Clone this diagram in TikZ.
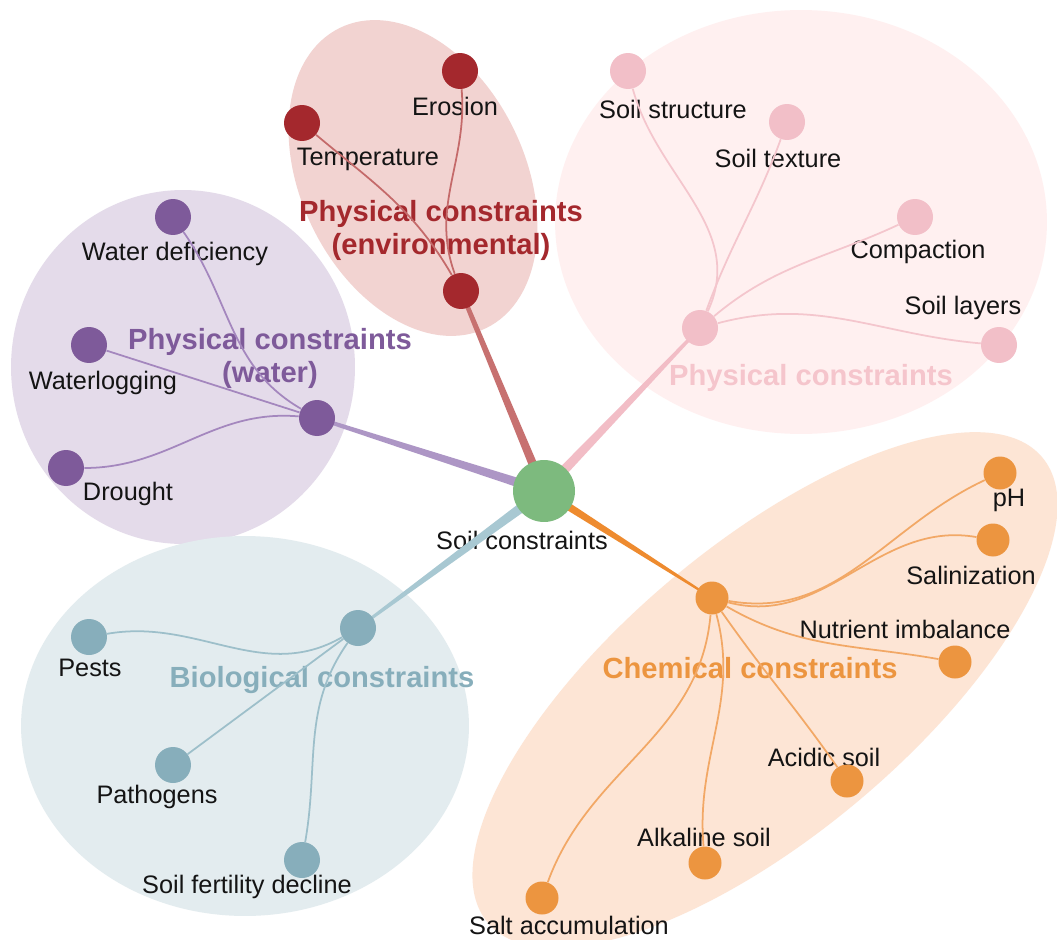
\documentclass[tikz,border=0pt]{standalone}
\usepackage{fontspec}
\setmainfont{Liberation Sans}
\usepackage{tikz}
\usetikzlibrary{calc}

\definecolor{soilgreen}{HTML}{7DBA7E}
\definecolor{envred}{HTML}{A4282D}
\definecolor{envfill}{HTML}{F2D3D1}
\definecolor{envspoke}{HTML}{C77170}
\definecolor{envlink}{HTML}{C46A6A}
\definecolor{water}{HTML}{7E5A9A}
\definecolor{waterfill}{HTML}{E4DBEA}
\definecolor{waterspoke}{HTML}{AD96C5}
\definecolor{waterlink}{HTML}{A487BE}
\definecolor{phys}{HTML}{F2BFC8}
\definecolor{physfill}{HTML}{FFF0F0}
\definecolor{physspoke}{HTML}{F2BDC6}
\definecolor{physlink}{HTML}{F4C6CD}
\definecolor{phystitle}{HTML}{F5C5CC}
\definecolor{bio}{HTML}{87AEBB}
\definecolor{biofill}{HTML}{E3ECEF}
\definecolor{biospoke}{HTML}{A8C8D2}
\definecolor{biolink}{HTML}{9DBFCA}
\definecolor{chem}{HTML}{EC9540}
\definecolor{chemfill}{HTML}{FDE5D5}
\definecolor{chemspoke}{HTML}{EE8B2F}
\definecolor{chemlink}{HTML}{F2A866}

\pgfdeclarelayer{blobs}
\pgfdeclarelayer{links}
\pgfsetlayers{blobs,links,main}

\tikzset{
  dot/.style={circle, inner sep=0pt, minimum size=0.72cm},
  lbl/.style={font=\fontsize{14.4}{17}\selectfont, text=black!92, inner sep=1pt},
  grp/.style={font=\fontsize{16.6}{18.8}\selectfont\bfseries, align=center, inner sep=1pt},
  link/.style={line width=1pt},
}

\begin{document}
\begin{tikzpicture}[x=0.02cm, y=-0.02cm]
\useasboundingbox (0,0) rectangle (1057,939);

% hubs and leaves
\node[dot, fill=soilgreen, minimum size=1.24cm] (soil) at (544,491) {};

\node[dot, fill=envred] (envhub) at (461,291) {};
\node[dot, fill=envred] (erosion) at (460,71) {};
\node[dot, fill=envred] (temp) at (302,123) {};

\node[dot, fill=water] (waterhub) at (317,418) {};
\node[dot, fill=water] (wdef) at (173,217) {};
\node[dot, fill=water] (wlog) at (89,345) {};
\node[dot, fill=water] (drought) at (66,468) {};

\node[dot, fill=phys] (physhub) at (700,328) {};
\node[dot, fill=phys] (struct) at (628,71) {};
\node[dot, fill=phys] (texture) at (787,122) {};
\node[dot, fill=phys] (compact) at (915,217) {};
\node[dot, fill=phys] (layers) at (999,345) {};

\node[dot, fill=bio] (biohub) at (358,628) {};
\node[dot, fill=bio] (pests) at (89,637) {};
\node[dot, fill=bio] (pathog) at (173,765) {};
\node[dot, fill=bio] (fertil) at (302,860) {};

\node[dot, fill=chem, minimum size=0.66cm] (chemhub) at (712,598) {};
\node[dot, fill=chem, minimum size=0.66cm] (ph) at (1000,473) {};
\node[dot, fill=chem, minimum size=0.66cm] (salin) at (993,540) {};
\node[dot, fill=chem, minimum size=0.66cm] (nutri) at (955,662) {};
\node[dot, fill=chem, minimum size=0.66cm] (acidic) at (847,781) {};
\node[dot, fill=chem, minimum size=0.66cm] (alkal) at (705,863) {};
\node[dot, fill=chem, minimum size=0.66cm] (salt) at (542,898) {};

\begin{pgfonlayer}{links}
% tapered spokes into the centre
\fill[envspoke] ($(envhub)!1.2pt!90:(soil)$) -- ($(soil)!2.6pt!-90:(envhub)$) -- ($(soil)!2.6pt!90:(envhub)$) -- ($(envhub)!1.2pt!-90:(soil)$) -- cycle;
\fill[waterspoke] ($(waterhub)!1pt!90:(soil)$) -- ($(soil)!2.8pt!-90:(waterhub)$) -- ($(soil)!2.8pt!90:(waterhub)$) -- ($(waterhub)!1pt!-90:(soil)$) -- cycle;
\fill[physspoke] ($(physhub)!0.8pt!90:(soil)$) -- ($(soil)!3pt!-90:(physhub)$) -- ($(soil)!3pt!90:(physhub)$) -- ($(physhub)!0.8pt!-90:(soil)$) -- cycle;
\fill[biospoke] ($(biohub)!0.7pt!90:(soil)$) -- ($(soil)!3pt!-90:(biohub)$) -- ($(soil)!3pt!90:(biohub)$) -- ($(biohub)!0.7pt!-90:(soil)$) -- cycle;
\fill[chemspoke] ($(chemhub)!0.5pt!90:(soil)$) -- ($(soil)!2.4pt!-90:(chemhub)$) -- ($(soil)!2.4pt!90:(chemhub)$) -- ($(chemhub)!0.5pt!-90:(soil)$) -- cycle;

% environmental
\draw[link, envlink] (erosion) to[out=-85,in=110] (envhub);
\draw[link, envlink] (temp) to[out=-40,in=120] (envhub);

% water
\draw[link, waterlink] (wdef) to[out=-55,in=150] (waterhub);
\draw[link, waterlink] (wlog) -- (waterhub);
\draw[link, waterlink] (drought) to[out=0,in=175] (waterhub);

% physical
\draw[link, physlink] (struct) to[out=-75,in=65] (physhub);
\draw[link, physlink] (texture) to[out=-110,in=70] (physhub);
\draw[link, physlink] (compact) to[out=-155,in=40] (physhub);
\draw[link, physlink] (layers) to[out=175,in=15] (physhub);

% biological
\draw[link, biolink] (pests) to[out=10,in=-150] (biohub);
\draw[link, biolink] (pathog) -- (biohub);
\draw[link, biolink] (fertil) to[out=80,in=-125] (biohub);

% chemical
\draw[link, chemlink] (ph) to[out=-155,in=-10] (chemhub);
\draw[link, chemlink] (salin) to[out=170,in=-15] (chemhub);
\draw[link, chemlink] (nutri) to[out=170,in=-30] (chemhub);
\draw[link, chemlink] (acidic) to[out=125,in=-55] (chemhub);
\draw[link, chemlink] (alkal) to[out=95,in=-75] (chemhub);
\draw[link, chemlink] (salt) to[out=70,in=-95] (chemhub);
\end{pgfonlayer}

\begin{pgfonlayer}{blobs}
\fill[white] (0,0) rectangle (1057,939);
% group backgrounds
\fill[physfill] (801,222) ellipse [x radius=4.92cm, y radius=4.24cm];
\fill[envfill, rotate around={-64:(413,178)}] (413,178) ellipse [x radius=3.34cm, y radius=2.24cm];
\fill[waterfill] (183,367) ellipse [x radius=3.44cm, y radius=3.54cm];
\fill[biofill] (245,726) ellipse [x radius=4.48cm, y radius=3.8cm];
\fill[chemfill, rotate around={40:(765,690)}] (765,690) ellipse [x radius=7.24cm, y radius=2.9cm];

% group titles
\node[grp, text=envred] (env-t) at (441,230) {Physical constraints\\(environmental)};
\node[grp, text=water] (water-t) at (270,358) {Physical constraints\\(water)};
\node[grp, text=phystitle] (phys-t) at (811,378) {Physical constraints};
\node[grp, text=bio] (bio-t) at (322,680) {Biological constraints};
\node[grp, text=chem] (chem-t) at (750,668) {Chemical constraints};

% labels
\node[lbl] (soil-l) at (522,540) {Soil constraints};
\node[lbl] (erosion-l) at (455,106) {Erosion};
\node[lbl] (temp-l) at (368,159) {Temperature};
\node[lbl] (wdef-l) at (175,254) {Water deficiency};
\node[lbl] (wlog-l) at (103,383) {Waterlogging};
\node[lbl] (drought-l) at (128,494) {Drought};
\node[lbl] (struct-l) at (673,109) {Soil structure};
\node[lbl] (texture-l) at (778,158) {Soil texture};
\node[lbl] (compact-l) at (918,252) {Compaction};
\node[lbl] (layers-l) at (963,308) {Soil layers};
\node[lbl] (pests-l) at (90,668) {Pests};
\node[lbl] (pathog-l) at (157,797) {Pathogens};
\node[lbl] (fertil-l) at (247,887) {Soil fertility decline};
\node[lbl] (ph-l) at (1009,500) {pH};
\node[lbl] (salin-l) at (971,575) {Salinization};
\node[lbl] (nutri-l) at (905,629) {Nutrient imbalance};
\node[lbl] (acidic-l) at (824,757) {Acidic soil};
\node[lbl] (alkal-l) at (704,837) {Alkaline soil};
\node[lbl] (salt-l) at (569,925) {Salt accumulation};
\end{pgfonlayer}
\end{tikzpicture}
\end{document}
